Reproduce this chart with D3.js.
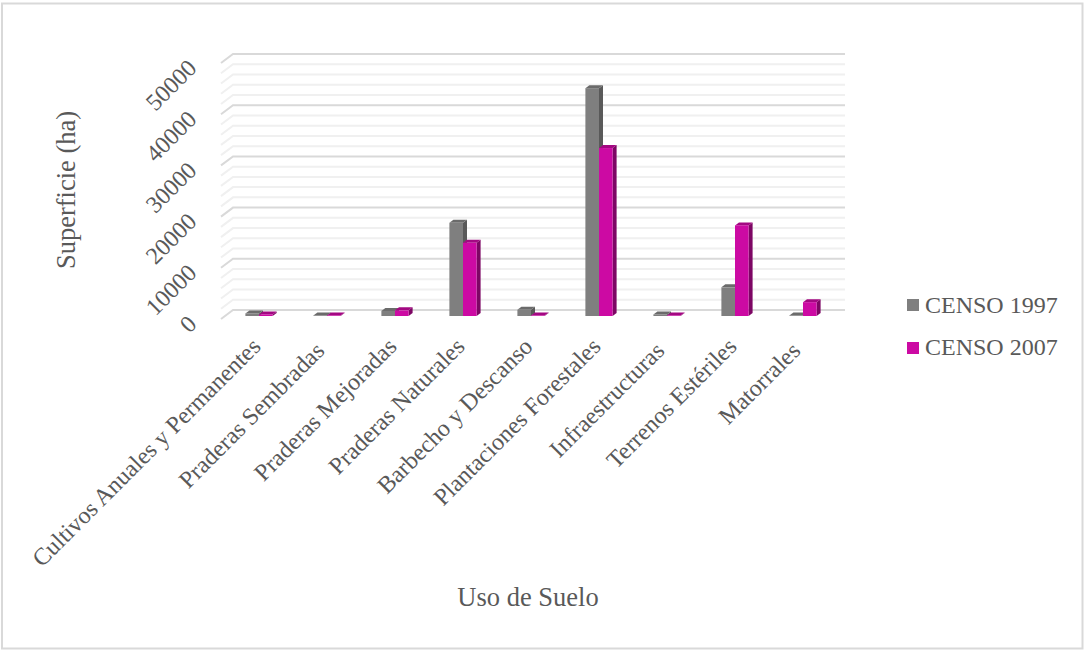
<!DOCTYPE html>
<html><head><meta charset="utf-8">
<script src="https://cdn.jsdelivr.net/npm/d3@7/dist/d3.min.js"></script>
<style>html,body{margin:0;padding:0;background:#fff}svg{display:block}text{font-family:"Liberation Serif",serif;fill:#595959}</style>
</head><body><svg id="c" width="1084" height="650"></svg>
<script>
const categories=["Cultivos Anuales y Permanentes","Praderas Sembradas","Praderas Mejoradas","Praderas Naturales","Barbecho y Descanso","Plantaciones Forestales","Infraestructuras","Terrenos Estériles","Matorrales"];
const censo1997=[500,100,1000,18200,1200,44500,300,5600,100];
const censo2007=[300,100,1100,14300,100,32800,100,17700,2700];
const seriesNames=["CENSO 1997","CENSO 2007"];
const yTicks=[0,10000,20000,30000,40000,50000];
const gridValues=d3.range(0,50001,2000);
const nudgedLabels=new Set(["Praderas Sembradas","Infraestructuras","Matorrales"]);

const svg=d3.select("#c");
svg.append("rect").attr("x",2).attr("y",3.5).attr("width",1080.5).attr("height",645).attr("fill","#fff").attr("stroke","#d9d9d9").attr("stroke-width",2);

const y=d3.scaleLinear().domain([0,50000]).range([310,54]);
const x=d3.scaleBand().domain(categories).range([221,833]);
const wallDx=12,wallDy=9,barFrontDy=6,depthX=4,depthY=3,barW=13.6;
const colors=[{f:"#7f7f7f",t:"#6b6b6b",s:"#595959"},{f:"#cc0aa3",t:"#a30882",s:"#7d0664"}];

const grid=svg.append("g").attr("fill","none");
gridValues.slice().sort((a,b)=>(a%10000===0)-(b%10000===0)).forEach(v=>{
  const major=v%10000===0;
  const c=major?"#d9d9d9":"#f0f0f0";
  grid.append("path").attr("stroke",c).attr("stroke-width",2)
    .attr("d",`M${x.range()[0]},${y(v)+wallDy}L${x.range()[0]+wallDx},${y(v)}H${x.range()[1]+wallDx}`);
});

const seriesData=[censo1997,censo2007];
const barX=(i,s)=>x(categories[i])+x.bandwidth()/2+4+(s-1)*barW;
seriesData.forEach((vals,s)=>{
  const g=svg.append("g");
  vals.forEach((v,i)=>{
    const x0=barX(i,s),x1=x0+barW,base=y(0)+barFrontDy,top=y(v)+barFrontDy;
    g.append("path").attr("fill",colors[s].s).attr("d",`M${x1},${top}L${x1+depthX},${top-depthY}V${base-depthY}L${x1},${base}Z`);
    g.append("path").attr("fill",colors[s].t).attr("d",`M${x0},${top}L${x0+depthX},${top-depthY}H${x1+depthX}L${x1},${top}Z`);
    g.append("rect").attr("x",x0).attr("y",top).attr("width",barW).attr("height",base-top).attr("fill",colors[s].f);
  });
});

yTicks.forEach(v=>{
  svg.append("text").attr("transform",`translate(198,${y(v)+15.5}) rotate(-45)`)
    .attr("text-anchor","end").attr("font-size",24).text(v);
});
categories.forEach(c=>{
  svg.append("text").attr("transform",`translate(${x(c)+x.bandwidth()/2+7},${348}) rotate(-45)`)
    .attr("dx",nudgedLabels.has(c)?-6:0)
    .attr("text-anchor","end").attr("font-size",24).text(c);
});
svg.append("text").attr("transform","translate(75,190) rotate(-90)").attr("text-anchor","middle").attr("font-size",26.5).text("Superficie (ha)");
svg.append("text").attr("x",528).attr("y",606).attr("text-anchor","middle").attr("font-size",26.5).text("Uso de Suelo");

seriesNames.forEach((n,s)=>{
  svg.append("rect").attr("x",907).attr("y",[299,342][s]).attr("width",12).attr("height",12).attr("fill",colors[s].f);
  svg.append("text").attr("x",925).attr("y",[313,355][s]).attr("font-size",24).text(n);
});
</script></body></html>
